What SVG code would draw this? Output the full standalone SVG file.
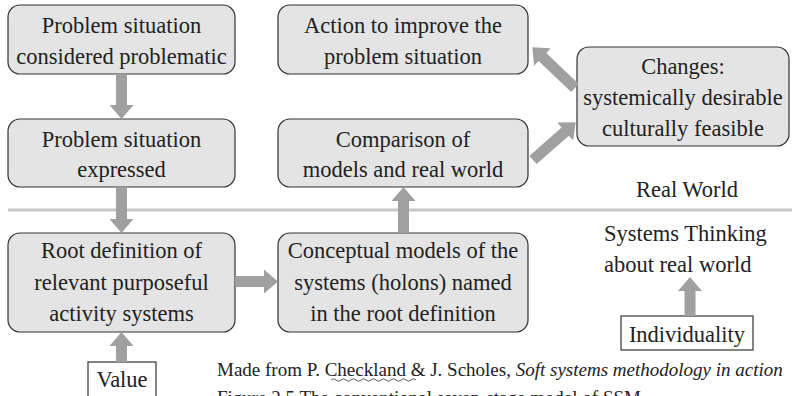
<svg xmlns="http://www.w3.org/2000/svg" width="792" height="396" viewBox="0 0 792 396">
<style>
.box{fill:#e4e4e4;stroke:#333;stroke-width:1.2}
.plain{fill:#fff;stroke:#333;stroke-width:1.2}
.t{font-size:22.5px;text-anchor:middle;fill:#222}
.tl{font-size:22.5px;fill:#222}
.cap{font-size:19px;fill:#222}
.arr{fill:#a0a0a0}
</style>
<rect width="792" height="396" fill="#fff"/>
<g font-family="Liberation Serif, serif">
<line x1="8" y1="210" x2="792" y2="210" stroke="#c8c8c8" stroke-width="3"/>
<g id="n1"><rect class="box" x="8" y="5" width="227" height="69" rx="12"/>
<text class="t" x="121.5" y="33">Problem situation</text><text class="t" x="121.5" y="64">considered problematic</text></g>
<g id="n2"><rect class="box" x="8" y="119" width="227" height="68" rx="12"/>
<text class="t" x="121.5" y="147">Problem situation</text><text class="t" x="121.5" y="177">expressed</text></g>
<g id="n3"><rect class="box" x="278" y="5" width="250" height="69" rx="12"/>
<text class="t" x="403" y="33">Action to improve the</text><text class="t" x="403" y="64">problem situation</text></g>
<g id="n4"><rect class="box" x="278" y="119" width="250" height="68" rx="12"/>
<text class="t" x="403" y="147">Comparison of</text><text class="t" x="403" y="177">models and real world</text></g>
<g id="n5"><rect class="box" x="577" y="47" width="212" height="99" rx="12"/>
<text class="t" x="683" y="74">Changes:</text><text class="t" x="683" y="105">systemically desirable</text><text class="t" x="683" y="136">culturally feasible</text></g>
<g id="n6"><rect class="box" x="8" y="233" width="227" height="99" rx="12"/>
<text class="t" x="121.5" y="258">Root definition of</text><text class="t" x="121.5" y="290">relevant purposeful</text><text class="t" x="121.5" y="321">activity systems</text></g>
<g id="n7"><rect class="box" x="278" y="233" width="250" height="99" rx="12"/>
<text class="t" x="403" y="258">Conceptual models of the</text><text class="t" x="403" y="290">systems (holons) named</text><text class="t" x="403" y="321">in the root definition</text></g>
<g id="n8"><rect class="plain" x="88" y="362" width="68" height="40"/>
<text class="t" x="122" y="387">Value</text></g>
<g id="n9"><rect class="plain" x="621" y="316" width="132" height="34"/>
<text class="t" x="687" y="342">Individuality</text></g>
<g id="labels">
<text class="t" x="687" y="197">Real World</text>
<text class="tl" x="604" y="241">Systems Thinking</text>
<text class="tl" x="604" y="272">about real world</text>
</g>
<g id="connectors">
<polygon class="arr" points="116,74 127,74 127,105 133.5,105 121.5,119 109.5,105 116,105"/>
<polygon class="arr" points="116,187 127,187 127,219 133.5,219 121.5,233 109.5,219 116,219"/>
<polygon class="arr" points="116,362 127,362 127,346 133.5,346 121.5,332 109.5,346 116,346"/>
<polygon class="arr" points="235,276 264,276 264,269.5 278,281.5 264,293.5 264,287 235,287"/>
<polygon class="arr" points="398,233 409,233 409,201 415.5,201 403.5,187 391.5,201 398,201"/>
<polygon class="arr" points="684.5,316 695.5,316 695.5,291 702,291 690,277 678,291 684.5,291"/>
<polygon class="arr" transform="translate(533,160) rotate(-41.5)" points="0,-5.5 43,-5.5 43,-12 57,0 43,12 43,5.5 0,5.5"/>
<polygon class="arr" transform="translate(575,88) rotate(223.6)" points="0,-5.5 45,-5.5 45,-12 59,0 45,12 45,5.5 0,5.5"/>
</g>
<g id="caption">
<text class="cap" x="217" y="376">Made from P. Checkland &amp; J. Scholes, <tspan font-style="italic">Soft systems methodology in action</tspan></text>
<path d="M331,380 q2.5,-2.5 5,0 t5,0 t5,0 t5,0 t5,0 t5,0 t5,0 t5,0 t5,0 t5,0 t5,0 t5,0 t5,0 t5,0 t5,0 t5,0 t5,0" fill="none" stroke="#333" stroke-width="0.8"/>
<text class="cap" x="217" y="404">Figure 2.5 The conventional seven-stage model of SSM</text>
</g>
</g>
</svg>
